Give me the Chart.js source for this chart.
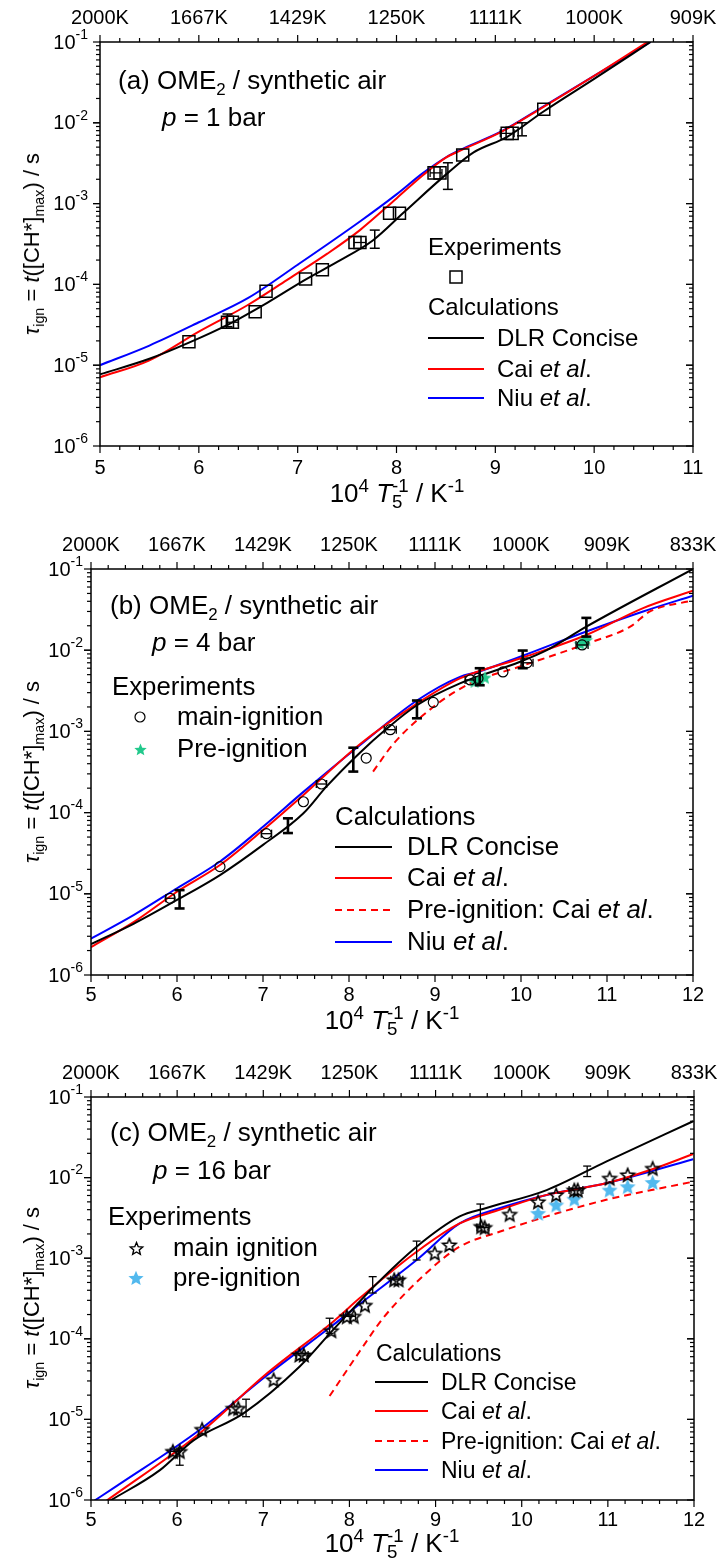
<!DOCTYPE html>
<html>
<head>
<meta charset="utf-8">
<title>OME2 ignition delay times</title>
<script src="https://cdn.jsdelivr.net/npm/chart.js@4.4.1/dist/chart.umd.min.js"></script>
<style>
  body { margin: 0; width: 720px; height: 1564px; position: relative; overflow: hidden; background: #fff;
         font-family: "Liberation Sans", Arial, sans-serif; color: #000; }
  canvas { position: absolute; left: 0; }
  .t { position: absolute; white-space: nowrap; line-height: 1; transform: translateY(-50%); }
  .c { transform: translate(-50%, -50%); }
  .ttl { font-size: 26px; }
  .la { font-size: 24px; }
  .lb { font-size: 25.8px; }
  .lc { font-size: 23px; }
  .axt { font-size: 26px; }
  .axt sup, .axt sub { font-size: 72%; }
  .yt { font-size: 22px; transform: translate(-50%, -50%) rotate(-90deg); }
  sub, sup { font-size: 65%; line-height: 0; }
  svg { position: absolute; overflow: visible; }
</style>
</head>
<body>
<canvas id="ca" width="720" height="525" style="top:0"></canvas>
<canvas id="cb" width="720" height="525" style="top:525px"></canvas>
<canvas id="cc" width="720" height="514" style="top:1050px"></canvas>

<!-- panel a -->
<div class="t ttl" style="left:118px;top:80px">(a) OME<sub>2</sub> / synthetic air</div>
<div class="t ttl" style="left:162px;top:117px"><i>p</i> = 1 bar</div>
<div class="t la" style="left:428px;top:247px">Experiments</div>
<div class="t la" style="left:428px;top:307px">Calculations</div>
<div class="t la" style="left:497px;top:338px">DLR Concise</div>
<div class="t la" style="left:497px;top:369px">Cai <i>et al</i>.</div>
<div class="t la" style="left:497px;top:398px">Niu <i>et al</i>.</div>
<div class="t yt" style="left:32px;top:244px"><i>τ</i><sub>ign</sub> = <i>t</i>([CH*]<sub>max</sub>) / s</div>
<div class="t axt c" style="left:397px;top:493px">10<sup>4</sup> <i>T</i><sub>5</sub><sup style="margin-left:-0.56em">-1</sup> / K<sup>-1</sup></div>

<!-- panel b -->
<div class="t ttl" style="left:110px;top:605px">(b) OME<sub>2</sub> / synthetic air</div>
<div class="t ttl" style="left:152px;top:642px"><i>p</i> = 4 bar</div>
<div class="t lb" style="left:112px;top:687px">Experiments</div>
<div class="t lb" style="left:177px;top:717px">main-ignition</div>
<div class="t lb" style="left:177px;top:749px">Pre-ignition</div>
<div class="t lb" style="left:335px;top:817px">Calculations</div>
<div class="t lb" style="left:407px;top:847px">DLR Concise</div>
<div class="t lb" style="left:407px;top:878px">Cai <i>et al</i>.</div>
<div class="t lb" style="left:407px;top:910px">Pre-ignition: Cai <i>et al</i>.</div>
<div class="t lb" style="left:407px;top:942px">Niu <i>et al</i>.</div>
<div class="t yt" style="left:32px;top:772px"><i>τ</i><sub>ign</sub> = <i>t</i>([CH*]<sub>max</sub>) / s</div>
<div class="t axt c" style="left:392px;top:1020px">10<sup>4</sup> <i>T</i><sub>5</sub><sup style="margin-left:-0.56em">-1</sup> / K<sup>-1</sup></div>

<!-- panel c -->
<div class="t ttl" style="left:110px;top:1132px">(c) OME<sub>2</sub> / synthetic air</div>
<div class="t ttl" style="left:153px;top:1170px"><i>p</i> = 16 bar</div>
<div class="t lb" style="left:108px;top:1217px">Experiments</div>
<div class="t lb" style="left:173px;top:1248px">main ignition</div>
<div class="t lb" style="left:173px;top:1278px">pre-ignition</div>
<div class="t lc" style="left:376px;top:1353px">Calculations</div>
<div class="t lc" style="left:441px;top:1382px">DLR Concise</div>
<div class="t lc" style="left:441px;top:1411px">Cai <i>et al</i>.</div>
<div class="t lc" style="left:441px;top:1441px">Pre-ignition: Cai <i>et al</i>.</div>
<div class="t lc" style="left:441px;top:1470px">Niu <i>et al</i>.</div>
<div class="t yt" style="left:32px;top:1298px"><i>τ</i><sub>ign</sub> = <i>t</i>([CH*]<sub>max</sub>) / s</div>
<div class="t axt c" style="left:392px;top:1543px">10<sup>4</sup> <i>T</i><sub>5</sub><sup style="margin-left:-0.56em">-1</sup> / K<sup>-1</sup></div>

<script>
// axis labels
const ticksX = [5, 6, 7, 8, 9, 10, 11, 12];
const topLabels = ['2000K', '1667K', '1429K', '1250K', '1111K', '1000K', '909K', '833K'];
const expLabels = ['-1', '-2', '-3', '-4', '-5', '-6'];

// (a) p = 1 bar
const dlrA = [[5.0, 7.7e-6], [5.5, 1.2e-5], [5.9, 1.9e-5], [6.3, 3.2e-5], [6.7, 6.0e-5], [7.07, 1.13e-4], [7.4, 1.9e-4],
  [7.76, 3.5e-4], [8.07, 7.7e-4], [8.52, 2.4e-3], [8.78, 4.3e-3], [9.12, 6.7e-3], [9.48, 1.36e-2], [10.0, 3.5e-2], [10.57, 1.0e-1]];
const caiA = [[5.0, 7.1e-6], [5.5, 1.15e-5], [6.0, 2.6e-5], [6.5, 5.6e-5], [6.89, 1.13e-4], [7.3, 2.4e-4], [7.63, 4.7e-4],
  [8.0, 1.16e-3], [8.27, 2.26e-3], [8.5, 3.7e-3], [8.64, 4.5e-3], [9.05, 7.6e-3], [9.48, 1.55e-2], [10.0, 3.8e-2], [10.54, 1.0e-1]];
const niuA = [[5.0, 1.0e-5], [5.5, 1.75e-5], [6.0, 3.4e-5], [6.5, 6.8e-5], [7.0, 1.75e-4], [7.63, 6.0e-4], [8.0, 1.3e-3],
  [8.27, 2.4e-3], [8.51, 3.8e-3], [8.64, 4.6e-3], [9.05, 7.7e-3], [9.48, 1.58e-2], [10.0, 3.8e-2], [10.57, 1.0e-1]];
const expA = [[5.90, 1.95e-5], [6.29, 3.4e-5], [6.34, 3.4e-5], [6.57, 4.6e-5], [6.68, 8.2e-5], [7.08, 1.17e-4], [7.25, 1.52e-4],
  [7.58, 3.3e-4], [7.63, 3.3e-4], [7.93, 7.6e-4], [8.03, 7.6e-4], [8.38, 2.4e-3], [8.44, 2.4e-3], [8.67, 4.0e-3],
  [9.12, 7.4e-3], [9.17, 7.4e-3], [9.49, 1.47e-2]];
const vbarA = [[6.29, 3.0e-5, 4.3e-5], [7.78, 2.8e-4, 4.7e-4], [8.52, 1.5e-3, 3.2e-3], [9.27, 6.9e-3, 1.0e-2]];
const hbarA = [[6.34, 3.4e-5, 0.06], [7.63, 3.3e-4, 0.06], [8.40, 2.4e-3, 0.06], [9.12, 7.4e-3, 0.07]];

// (b) p = 4 bar
const dlrB = [[5.0, 2.4e-6], [5.5, 4.3e-6], [6.0, 8.4e-6], [6.5, 1.7e-5], [7.0, 4.0e-5], [7.47, 9.8e-5], [7.74, 2.1e-4],
  [8.13, 5.5e-4], [8.42, 1.04e-3], [8.79, 2.1e-3], [9.29, 3.9e-3], [9.99, 7.2e-3], [10.3, 1.0e-2], [10.76, 1.95e-2], [12.0, 1.0e-1]];
const caiB = [[5.0, 2.2e-6], [5.5, 4.5e-6], [6.0, 1.06e-5], [6.5, 2.26e-5], [7.0, 6.1e-5], [7.47, 1.65e-4], [8.13, 7.0e-4],
  [8.79, 2.2e-3], [9.29, 4.5e-3], [9.99, 7.9e-3], [10.76, 1.54e-2], [11.42, 3.3e-2], [12.0, 5.4e-2]];
const caiPreB = [[8.28, 3.2e-4], [8.52, 7.1e-4], [8.98, 2.0e-3], [9.41, 3.9e-3], [9.99, 6.3e-3], [10.76, 1.2e-2],
  [11.27, 1.95e-2], [11.5, 3.0e-2], [12.0, 4.1e-2]];
const niuB = [[5.0, 2.8e-6], [5.5, 5.5e-6], [6.0, 1.17e-5], [6.5, 2.5e-5], [7.0, 6.7e-5], [7.47, 1.8e-4], [8.13, 6.8e-4],
  [8.79, 2.4e-3], [9.29, 4.7e-3], [9.5, 5.4e-3], [9.99, 8.3e-3], [10.76, 1.7e-2], [11.42, 3.0e-2], [12.0, 4.7e-2]];
const mainB = [[5.92, 8.8e-6], [6.5, 2.16e-5], [7.04, 5.5e-5], [7.47, 1.36e-4], [7.68, 2.25e-4], [8.2, 4.7e-4], [8.48, 1.05e-3],
  [8.98, 2.28e-3], [9.41, 4.3e-3], [9.5, 4.5e-3], [9.79, 5.4e-3], [10.07, 7.0e-3], [10.71, 1.16e-2]];
const preB = [[9.46, 4.1e-3], [9.52, 4.4e-3], [9.58, 4.6e-3], [10.69, 1.2e-2], [10.73, 1.27e-2], [10.76, 1.34e-2]];
const vbarB = [[6.03, 6.6e-6, 1.11e-5], [7.29, 5.6e-5, 8.5e-5], [8.05, 3.2e-4, 6.3e-4], [8.79, 1.45e-3, 2.4e-3],
  [9.52, 3.7e-3, 6.0e-3], [10.02, 6.0e-3, 9.9e-3], [10.76, 1.47e-2, 2.5e-2]];
const hbarB = [[5.92, 8.8e-6, 0.05], [7.04, 5.5e-5, 0.06], [7.68, 2.25e-4, 0.06], [8.48, 1.05e-3, 0.07], [9.41, 4.3e-3, 0.06],
  [10.07, 7.0e-3, 0.07], [10.71, 1.16e-2, 0.07]];

// (c) p = 16 bar
const dlrC = [[5.2, 9.5e-7], [5.8, 2.35e-6], [6.19, 5.5e-6], [6.77, 1.19e-5], [7.42, 4.5e-5], [7.81, 1.29e-4], [8.12, 2.9e-4],
  [8.27, 4.3e-4], [8.78, 1.39e-3], [9.28, 3.3e-3], [9.59, 4.2e-3], [10.29, 7.0e-3], [10.98, 1.58e-2], [11.99, 5.0e-2]];
const caiC = [[5.15, 9.3e-7], [6.26, 6.7e-6], [7.04, 3.7e-5], [7.81, 1.63e-4], [8.12, 3.2e-4], [8.78, 1.2e-3], [9.28, 2.7e-3],
  [9.75, 4.0e-3], [10.29, 6.1e-3], [10.98, 8.5e-3], [11.49, 1.24e-2], [11.99, 1.96e-2]];
const caiPreC = [[7.77, 1.95e-5], [8.12, 7.0e-5], [8.39, 1.8e-4], [8.89, 6.5e-4], [9.28, 1.39e-3], [9.75, 2.14e-3],
  [10.29, 3.3e-3], [10.98, 5.3e-3], [11.99, 8.9e-3]];
const niuC = [[5.02, 9.5e-7], [5.30, 1.5e-6], [6.26, 7.4e-6], [7.04, 3.5e-5], [7.81, 1.48e-4], [8.12, 2.7e-4], [8.78, 9.5e-4],
  [9.28, 2.7e-3], [9.75, 4.2e-3], [10.29, 6.1e-3], [10.98, 8.5e-3], [11.99, 1.69e-2]];
const mainC = [[5.95, 4.0e-6], [6.03, 4.0e-6], [6.29, 7.5e-6], [6.65, 1.37e-5], [6.71, 1.37e-5], [7.12, 3.1e-5], [7.42, 6.3e-5],
  [7.47, 6.3e-5], [7.79, 1.26e-4], [7.97, 1.88e-4], [8.05, 1.9e-4], [8.18, 2.6e-4], [8.52, 5.4e-4], [8.57, 5.4e-4],
  [8.99, 1.15e-3], [9.16, 1.46e-3], [9.53, 2.47e-3], [9.57, 2.4e-3], [9.86, 3.5e-3], [10.19, 5.0e-3], [10.40, 6.1e-3],
  [10.61, 7.0e-3], [10.65, 7.0e-3], [11.02, 9.8e-3], [11.23, 1.08e-2], [11.52, 1.3e-2]];
const preC = [[10.19, 3.6e-3], [10.40, 4.57e-3], [10.61, 5.4e-3], [11.02, 7.0e-3], [11.23, 7.7e-3], [11.52, 8.7e-3]];
const vbarC = [[6.03, 2.7e-6, 4.4e-6], [6.80, 1.08e-5, 1.78e-5], [7.77, 1.17e-4, 1.8e-4], [8.27, 3.7e-4, 5.9e-4],
  [8.78, 9.5e-4, 1.63e-3], [9.52, 2.47e-3, 4.7e-3], [10.76, 1.03e-2, 1.39e-2]];
const hbarC = [[5.97, 4.0e-6, 0.05], [7.45, 6.3e-5, 0.07], [8.0, 1.9e-4, 0.07], [8.55, 5.4e-4, 0.07], [9.55, 2.4e-3, 0.07],
  [10.63, 7.0e-3, 0.08]];

const FONT = '"Liberation Sans", Arial, sans-serif';
const GREEN = '#22c98c';
const SKY = '#52b9ee';

function starPath(g, cx, cy, r) {
  g.beginPath();
  for (let i = 0; i < 10; i++) {
    const rr = i % 2 ? r * 0.45 : r;
    const ang = -Math.PI / 2 + i * Math.PI / 5;
    g.lineTo(cx + rr * Math.cos(ang), cy + rr * Math.sin(ang));
  }
  g.closePath();
}

function starCanvas(r, fill, stroke, lw) {
  const s = Math.ceil(2 * r + lw + 2);
  const c = document.createElement('canvas');
  c.width = c.height = s;
  const g = c.getContext('2d');
  starPath(g, s / 2, s / 2 + r * 0.08, r);
  if (fill) { g.fillStyle = fill; g.fill(); }
  if (stroke) { g.strokeStyle = stroke; g.lineWidth = lw; g.stroke(); }
  return c;
}

const openStar = starCanvas(7, null, '#000', 1.6);
const greenStar = starCanvas(7, GREEN, null, 0);
const skyStar = starCanvas(8.5, SKY, null, 0);

function lineDs(pts, color, dash) {
  return {
    data: pts.map(([x, y]) => ({ x, y })), borderColor: color, borderWidth: 2, borderDash: dash || [],
    pointRadius: 0, fill: false, cubicInterpolationMode: 'monotone', clip: 0
  };
}

function pointDs(pts, style, r, bw) {
  return {
    data: pts.map(([x, y]) => ({ x, y })), showLine: false, pointStyle: style, pointRadius: r,
    pointBorderColor: '#000', pointBackgroundColor: 'rgba(0,0,0,0)', pointBorderWidth: bw, clip: false
  };
}

const frame = {
  id: 'frame',
  afterDatasetsDraw(chart, args, o) {
    const { ctx, chartArea: a, scales: { x, y } } = chart;
    const seg = (x1, y1, x2, y2) => { ctx.beginPath(); ctx.moveTo(x1, y1); ctx.lineTo(x2, y2); ctx.stroke(); };
    ctx.save();
    ctx.strokeStyle = '#000';
    ctx.fillStyle = '#000';

    // error bars
    ctx.lineWidth = o.barWidth;
    o.vbars.forEach(([v, lo, hi]) => {
      const px = x.getPixelForValue(v), p1 = y.getPixelForValue(lo), p2 = y.getPixelForValue(hi);
      seg(px, p1, px, p2);
      seg(px - o.cap, p1, px + o.cap, p1);
      seg(px - o.cap, p2, px + o.cap, p2);
    });
    ctx.lineWidth = 1.3;
    o.hbars.forEach(([v, val, w]) => {
      const p1 = x.getPixelForValue(v - w), p2 = x.getPixelForValue(v + w), py = y.getPixelForValue(val);
      seg(p1, py, p2, py);
      seg(p1, py - 4, p1, py + 4);
      seg(p2, py - 4, p2, py + 4);
    });

    // box and ticks
    ctx.lineWidth = 1.5;
    ctx.strokeRect(a.left, a.top, a.right - a.left, a.bottom - a.top);
    ctx.lineWidth = 1.2;
    const n = Math.round((x.max - x.min) * 5);
    for (let i = 0; i <= n; i++) {
      const px = x.getPixelForValue(x.min + i / 5);
      const len = i % 5 ? 4 : 7;
      seg(px, a.bottom, px, a.bottom + len);
      seg(px, a.top, px, a.top - len);
    }
    for (let e = -6; e <= -2; e++) {
      for (let m = 1; m <= 10; m++) {
        const py = y.getPixelForValue(m * Math.pow(10, e));
        const len = (m === 1 || m === 10) ? 7 : 4;
        seg(a.left - len, py, a.left, py);
        seg(a.right - len, py, a.right, py);
      }
    }

    // tick labels
    ctx.font = '20px ' + FONT;
    ctx.textAlign = 'center';
    ctx.textBaseline = 'middle';
    ticksX.forEach((v, i) => {
      if (v > x.max) return;
      const px = x.getPixelForValue(v);
      ctx.fillText(String(v), px, a.bottom + o.botOff);
      ctx.fillText(topLabels[i], px, a.top - 24);
    });
    ctx.textAlign = 'left';
    expLabels.forEach((s, i) => {
      const py = y.getPixelForValue(Math.pow(10, -(i + 1)));
      ctx.font = '14px ' + FONT;
      const ws = ctx.measureText(s).width;
      ctx.font = '20px ' + FONT;
      const wm = ctx.measureText('10').width;
      const xr = a.left - o.labGap;
      ctx.fillText('10', xr - ws - wm, py + 1);
      ctx.font = '14px ' + FONT;
      ctx.fillText(s, xr - ws, py - 7);
    });
    ctx.restore();
  }
};

function makePanel(id, pad, xmax, datasets, fo) {
  return new Chart(document.getElementById(id), {
    type: 'line',
    data: { datasets },
    options: {
      responsive: false, animation: false, devicePixelRatio: 1,
      layout: { padding: pad },
      scales: {
        x: { type: 'linear', min: 5, max: xmax, display: false },
        y: { type: 'logarithmic', min: 1e-6, max: 1e-1, display: false }
      },
      plugins: { legend: { display: false }, tooltip: { enabled: false }, frame: fo }
    },
    plugins: [frame]
  });
}

makePanel('ca', { left: 100, right: 27, top: 42, bottom: 79 }, 11, [
  pointDs(expA, 'rect', 8.5, 1.5),
  lineDs(dlrA, '#000'), lineDs(caiA, '#ff0000'), lineDs(niuA, '#0000ff')
], { vbars: vbarA, hbars: hbarA, barWidth: 1.5, cap: 5, botOff: 22, labGap: 12 });

makePanel('cb', { left: 91, right: 27, top: 44, bottom: 75 }, 12, [
  pointDs(mainB, 'circle', 5, 1.2),
  pointDs(preB, greenStar, 6, 0),
  lineDs(dlrB, '#000'), lineDs(caiB, '#ff0000'), lineDs(caiPreB, '#ff0000', [7, 5]), lineDs(niuB, '#0000ff')
], { vbars: vbarB, hbars: hbarB, barWidth: 2.6, cap: 5, botOff: 20, labGap: 8 });

makePanel('cc', { left: 91, right: 26, top: 47, bottom: 64 }, 12, [
  pointDs(mainC, openStar, 6, 0),
  pointDs(preC, skyStar, 8, 0),
  lineDs(dlrC, '#000'), lineDs(caiC, '#ff0000'), lineDs(caiPreC, '#ff0000', [7, 5]), lineDs(niuC, '#0000ff')
], { vbars: vbarC, hbars: hbarC, barWidth: 1.3, cap: 4, botOff: 20, labGap: 8 });

// legend symbols and line samples
const SVGNS = 'http://www.w3.org/2000/svg';
function svgAt(left, top, w, h) {
  const s = document.createElementNS(SVGNS, 'svg');
  s.setAttribute('width', w); s.setAttribute('height', h);
  s.style.left = left + 'px'; s.style.top = top + 'px';
  document.body.appendChild(s);
  return s;
}
function el(parent, tag, attrs) {
  const e = document.createElementNS(SVGNS, tag);
  Object.entries(attrs).forEach(([k, v]) => e.setAttribute(k, v));
  parent.appendChild(e);
}
function legLine(x1, x2, y, color, dash) {
  const s = svgAt(x1, y - 2, x2 - x1, 4);
  el(s, 'line', { x1: 0, y1: 2, x2: x2 - x1, y2: 2, stroke: color, 'stroke-width': 2, 'stroke-dasharray': dash || 'none' });
}
function legStar(cx, cy, r, fill, stroke) {
  const s = svgAt(cx - r - 2, cy - r - 2, 2 * r + 4, 2 * r + 4);
  const pts = [];
  for (let i = 0; i < 10; i++) {
    const rr = i % 2 ? r * 0.45 : r;
    const ang = -Math.PI / 2 + i * Math.PI / 5;
    pts.push((r + 2 + rr * Math.cos(ang)).toFixed(2) + ',' + (r + 2 + r * 0.08 + rr * Math.sin(ang)).toFixed(2));
  }
  el(s, 'polygon', { points: pts.join(' '), fill: fill || 'none', stroke: stroke || 'none', 'stroke-width': 1.4 });
}

// (a)
{ const s = svgAt(450, 271, 12, 12); el(s, 'rect', { x: 0, y: 0, width: 12, height: 12, fill: 'none', stroke: '#000', 'stroke-width': 1.5 }); }
legLine(428, 484, 338, '#000'); legLine(428, 484, 369, '#ff0000'); legLine(428, 484, 398, '#0000ff');
// (b)
{ const s = svgAt(135, 712, 10, 10); el(s, 'circle', { cx: 5, cy: 5, r: 5, fill: 'none', stroke: '#000', 'stroke-width': 1.2 }); }
legStar(140, 749, 6.5, GREEN);
legLine(335, 392, 847, '#000'); legLine(335, 392, 878, '#ff0000'); legLine(335, 392, 910, '#ff0000', '7 5'); legLine(335, 392, 942, '#0000ff');
// (c)
legStar(136, 1248, 6.5, null, '#000');
legStar(136, 1278, 8, SKY);
legLine(375, 428, 1382, '#000'); legLine(375, 428, 1411, '#ff0000'); legLine(375, 428, 1441, '#ff0000', '7 5'); legLine(375, 428, 1470, '#0000ff');
</script>
</body>
</html>
